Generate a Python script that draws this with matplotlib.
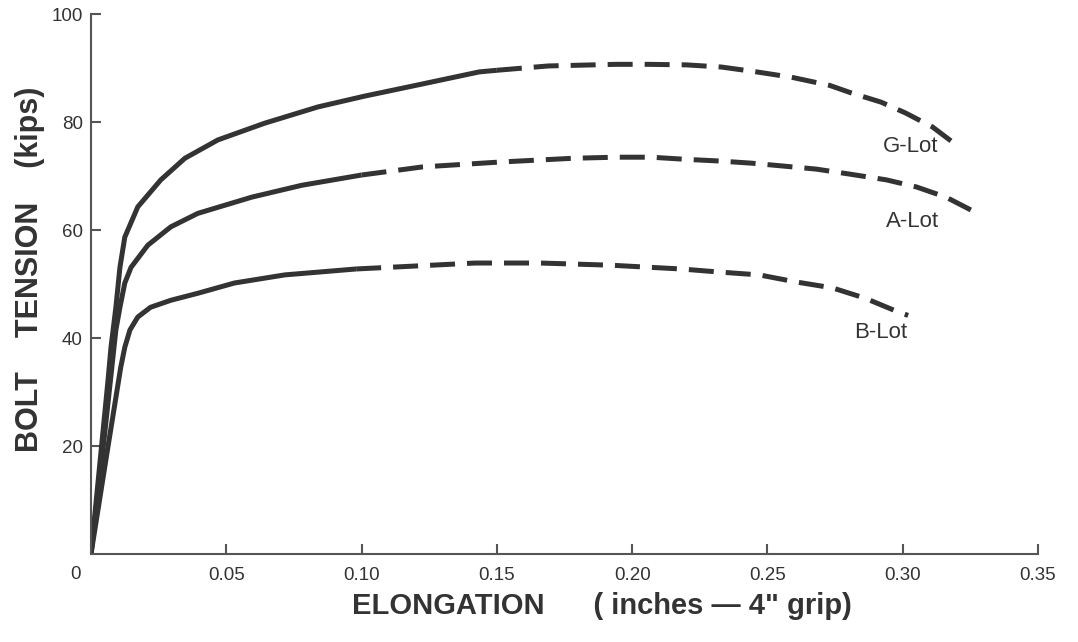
import matplotlib
matplotlib.use("Agg")
import matplotlib.pyplot as plt

# G-Lot curve (solid measured part, dashed extrapolated part)
g_solid_x = [0, 0.0063, 0.0074, 0.0092, 0.0107, 0.0125, 0.0173, 0.0258, 0.0347, 0.0469, 0.0642, 0.0838, 0.101, 0.12, 0.1435, 0.15]
g_solid_y = [0, 32.2, 38.3, 45.7, 53.1, 58.7, 64.3, 69.3, 73.3, 76.7, 79.8, 82.8, 84.8, 86.8, 89.3, 89.6]
g_dash_x = [0.15, 0.169, 0.194, 0.206, 0.22, 0.233, 0.246, 0.259, 0.273, 0.281, 0.292, 0.301, 0.311, 0.320]
g_dash_y = [89.6, 90.4, 90.7, 90.7, 90.6, 90.2, 89.3, 88.3, 86.8, 85.4, 83.7, 81.7, 79.1, 75.7]

# A-Lot
a_solid_x = [0, 0.005, 0.0092, 0.0107, 0.0125, 0.0148, 0.021, 0.0295, 0.0395, 0.0594, 0.0779, 0.1]
a_solid_y = [0, 22, 41.5, 45.7, 50.2, 53.1, 57.2, 60.6, 63.1, 66.1, 68.3, 70.2]
a_dash_x = [0.1, 0.1225, 0.151, 0.178, 0.194, 0.207, 0.22, 0.232, 0.244, 0.255, 0.268, 0.280, 0.294, 0.305, 0.316, 0.328]
a_dash_y = [70.2, 71.7, 72.6, 73.3, 73.5, 73.5, 73.1, 72.8, 72.4, 71.9, 71.3, 70.4, 69.3, 68.0, 66.1, 63.0]

# B-Lot
b_solid_x = [0, 0.006, 0.011, 0.0125, 0.0144, 0.0173, 0.022, 0.0295, 0.0395, 0.053, 0.0716, 0.098]
b_solid_y = [0, 19, 34.6, 38.3, 41.5, 43.9, 45.7, 47.0, 48.3, 50.2, 51.7, 52.8]
b_dash_x = [0.098, 0.118, 0.142, 0.166, 0.192, 0.218, 0.233, 0.247, 0.2605, 0.274, 0.286, 0.2985, 0.302]
b_dash_y = [52.8, 53.3, 53.9, 53.9, 53.5, 52.8, 52.2, 51.7, 50.4, 49.3, 47.4, 44.8, 44.2]

x_ticks = [0.05, 0.10, 0.15, 0.20, 0.25, 0.30, 0.35]
x_labels = ["0.05", "0.10", "0.15", "0.20", "0.25", "0.30", "0.35"]
y_ticks = [20, 40, 60, 80, 100]

ink = "#333333"
lw = 3.6
font = "Liberation Sans"

fig = plt.figure(figsize=(10.78, 6.42), dpi=100)
ax = fig.add_axes([0.0844, 0.137, 0.8785, 0.841])

for sx, sy, dx, dy in [(g_solid_x, g_solid_y, g_dash_x, g_dash_y),
                       (a_solid_x, a_solid_y, a_dash_x, a_dash_y),
                       (b_solid_x, b_solid_y, b_dash_x, b_dash_y)]:
    ax.plot(sx, sy, color=ink, lw=lw, solid_capstyle="butt", solid_joinstyle="round")
    ax.plot(dx, dy, color=ink, lw=lw, dashes=(5.0, 2.4), dash_capstyle="butt",
            dash_joinstyle="round")

lab = dict(fontsize=16, color=ink, ha="center", va="center", family=font)
ax.text(0.3030, 75.4, "G-Lot", **lab)
ax.text(0.3037, 61.5, "A-Lot", **lab)
ax.text(0.2919, 41.0, "B-Lot", **lab)

ax.set_xlim(0, 0.35)
ax.set_ylim(0, 100)
ax.spines["top"].set_visible(False)
ax.spines["right"].set_visible(False)
for s in ("left", "bottom"):
    ax.spines[s].set_color("#555555")
    ax.spines[s].set_linewidth(1.5)

ax.set_xticks(x_ticks)
ax.set_xticklabels(x_labels)
ax.set_yticks(y_ticks)
ax.tick_params(axis="both", direction="in", length=7, width=1.5, color="#555555",
               labelsize=13.5, labelcolor=ink)
ax.tick_params(axis="x", pad=9)
ax.tick_params(axis="y", pad=6)
for t in ax.get_xticklabels() + ax.get_yticklabels():
    t.set_family(font)

ax.annotate("0", xy=(0, 0), xytext=(-11, -15), textcoords="offset points",
            ha="center", va="center", fontsize=13.5, color=ink, family=font)

ax.set_xlabel("ELONGATION      ( inches \u2014 4\" grip)", fontsize=21, fontweight="bold",
              color=ink, family=font)
ax.xaxis.set_label_coords(0.54, -0.07)
ax.set_ylabel("BOLT    TENSION    (kips)", fontsize=22, fontweight="bold",
              color=ink, family=font)
ax.yaxis.set_label_coords(-0.049, 0.528)

fig.savefig("out.png", dpi=100, facecolor="white")
